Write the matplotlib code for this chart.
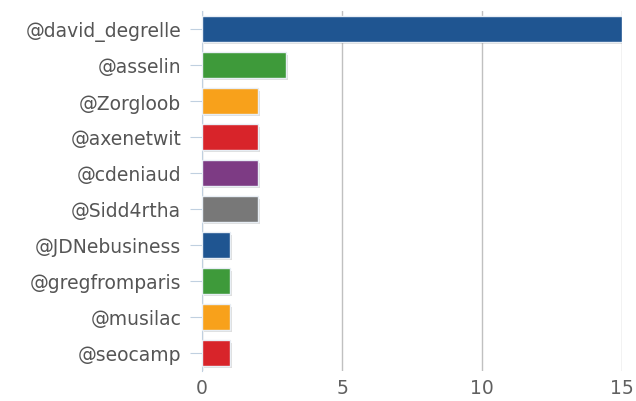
import matplotlib.pyplot as plt
from matplotlib.patches import Rectangle

users = ['@david_degrelle', '@asselin', '@Zorgloob', '@axenetwit', '@cdeniaud',
         '@Sidd4rtha', '@JDNebusiness', '@gregfromparis', '@musilac', '@seocamp']
counts = [15, 3, 2, 2, 2, 2, 1, 1, 1, 1]
colors = ['#1f5591', '#3e9a3a', '#f8a11b', '#d8242a', '#7d3b84', '#787878',
          '#1f5591', '#3e9a3a', '#f8a11b', '#d8242a']
xticks = [0, 5, 10, 15]

fig = plt.figure(figsize=(6.36, 4.02), dpi=100)
ax = fig.add_axes([202 / 636, 30 / 402, 420 / 636, 360 / 402])

ypos = list(range(len(users)))
h = 0.72
# shadows
for y, v in zip(ypos, counts):
    ax.add_patch(Rectangle((0.07, y - h / 2 + 0.07), v, h, color='#000000',
                           alpha=0.13, lw=0, zorder=2))
ax.barh(ypos, counts, height=h, color=colors, edgecolor='#e8eef5', lw=1, zorder=3)

ax.set_xlim(0, 15)
ax.set_ylim(len(users) - 0.5, -0.5)
ax.set_xticks(xticks)
ax.set_yticks(ypos)
ax.set_yticklabels(users)
ax.grid(axis='x', color='#c0c0c0', lw=1, zorder=0)
for s in ['top', 'right', 'bottom']:
    ax.spines[s].set_visible(False)
ax.spines['left'].set_color('#c0d0e0')
ax.tick_params(axis='y', length=9, color='#c0d0e0', labelsize=13.5, labelcolor='#555555', pad=6)
ax.tick_params(axis='x', length=0, labelsize=13.5, labelcolor='#606060', pad=5)

plt.savefig('out.png')
